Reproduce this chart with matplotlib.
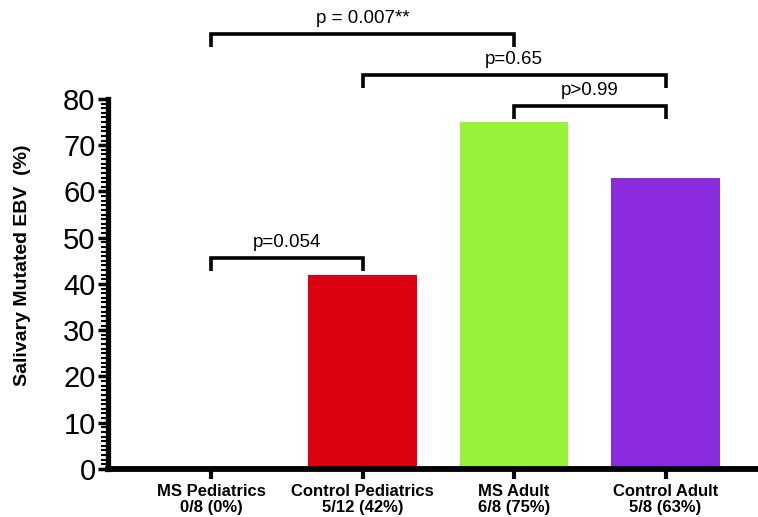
import matplotlib.pyplot as plt
from matplotlib.ticker import MultipleLocator

plt.rcParams['font.family'] = ['Liberation Sans', 'DejaVu Sans']

categories = ["MS Pediatrics\n0/8 (0%)", "Control Pediatrics\n5/12 (42%)",
              "MS Adult\n6/8 (75%)", "Control Adult\n5/8 (63%)"]
values = [0, 42, 75, 63]
colors = ["#ffffff", "#dd0010", "#99f23a", "#8a2be0"]

# comparisons: (left group, right group, bracket height, label)
comparisons = [
    (0, 2, 94.0, "p = 0.007**"),
    (1, 3, 85.2, "p=0.65"),
    (2, 3, 78.5, "p>0.99"),
    (0, 1, 45.6, "p=0.054"),
]

fig = plt.figure(figsize=(7.58, 5.17), dpi=100)
ax = fig.add_axes([0.1425, 0.093, 0.8575, 0.7157])

x = list(range(len(categories)))
ax.bar(x, values, width=0.714, color=colors)

ax.set_xlim(-0.68, 3.61)
ax.set_ylim(0, 80)

for s in ["top", "right"]:
    ax.spines[s].set_visible(False)
ax.spines["left"].set_linewidth(3.8)
ax.spines["bottom"].set_linewidth(4.2)

ax.yaxis.set_major_locator(MultipleLocator(10))
ax.yaxis.set_minor_locator(MultipleLocator(1))
ax.tick_params(axis="y", which="major", length=7, width=2.5, labelsize=21, pad=2)
ax.tick_params(axis="y", which="minor", length=5, width=1.5)
ax.tick_params(axis="x", which="major", length=7, width=3, pad=4)

ax.set_xticks(x)
ax.set_xticklabels(categories, fontsize=12, fontweight="bold", linespacing=1.05)
ax.set_ylabel("Salivary Mutated EBV  (%)", fontsize=14, fontweight="bold")
ax.yaxis.set_label_coords(-0.118, 0.55)

drop = 2.8
for a, b, h, label in comparisons:
    ax.plot([a, a, b, b], [h - drop, h, h, h - drop], color="black", lw=2.6,
            clip_on=False, solid_capstyle="butt", solid_joinstyle="miter")
    ax.text((a + b) / 2, h + 1.5, label, ha="center", va="bottom", fontsize=13.5)

fig.savefig("out.png", dpi=100)
